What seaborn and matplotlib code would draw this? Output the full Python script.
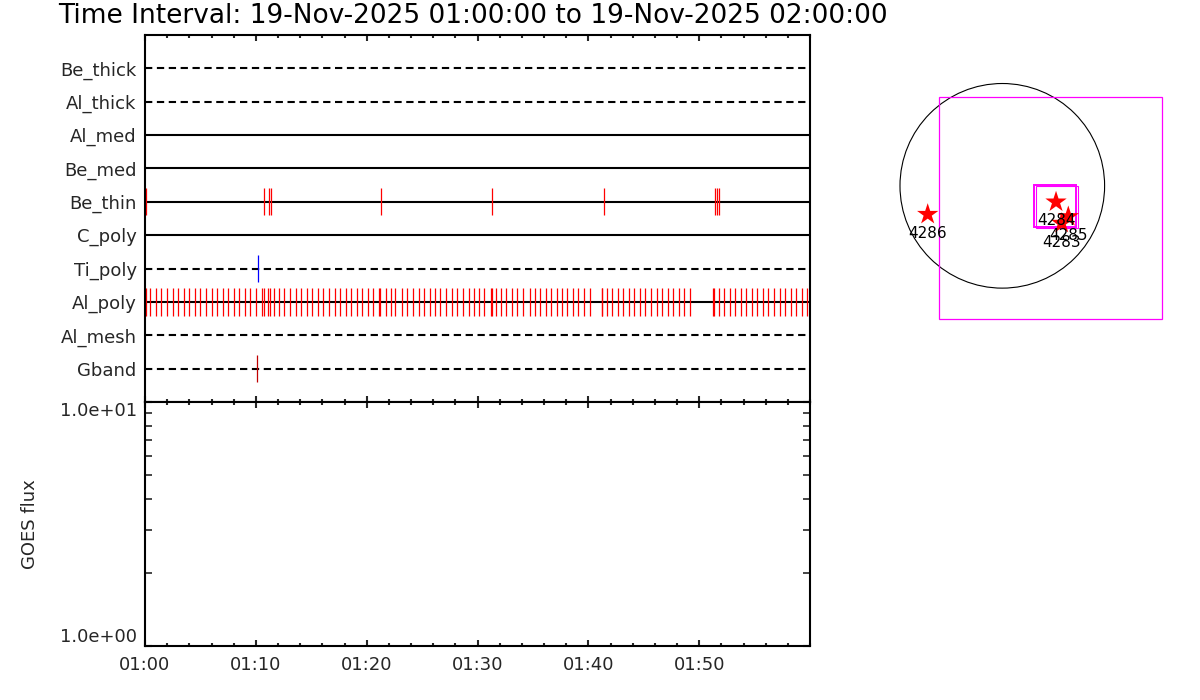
import numpy as np
import pandas as pd
import matplotlib
matplotlib.use("Agg")
import matplotlib.pyplot as plt
from matplotlib.ticker import MultipleLocator, LogLocator, NullFormatter, FixedLocator
from matplotlib.patches import Circle, Rectangle
import seaborn as sns

# ---------------- data ----------------
title = "Time Interval: 19-Nov-2025 01:00:00 to 19-Nov-2025 02:00:00"

# filter rows, top to bottom
filters = ["Be_thick", "Al_thick", "Al_med", "Be_med", "Be_thin",
           "C_poly", "Ti_poly", "Al_poly", "Al_mesh", "Gband"]

# exposure times (minutes after 01:00)
be_thin_times = [0.09, 10.77, 11.22, 11.40, 21.33, 31.35, 41.37, 51.47, 51.63, 51.78]
ti_poly_times = [10.23]
gband_times = [10.13]
al_poly_times = [
    0.00, 0.08, 0.48, 0.96, 1.47, 2.01, 2.50, 3.00, 3.50, 4.00, 4.50, 5.00, 5.50,
    6.00, 6.50, 7.00, 7.53, 8.00, 8.50, 9.00, 9.50, 10.00, 10.60, 10.70, 11.13,
    11.28, 11.67, 12.12, 12.57, 13.10, 13.60, 14.10, 14.60, 15.10, 15.60, 16.10,
    16.60, 17.10, 17.60, 18.10, 18.60, 19.10, 19.60, 20.10, 20.60, 21.10, 21.18,
    21.70, 22.20, 22.60, 23.20, 23.60, 24.15, 24.70, 25.20, 25.70, 26.20, 26.65,
    27.20, 27.70, 28.15, 28.70, 29.20, 29.65, 30.14, 30.60, 31.20, 31.27, 31.67,
    32.15, 32.60, 33.15, 33.60, 34.10, 34.70, 35.20, 35.64, 36.15, 36.60, 37.15,
    37.65, 38.10, 38.65, 39.10, 39.60, 40.15, 41.20, 41.27, 41.65, 42.16, 42.65,
    43.16, 43.67, 44.15, 44.66, 45.15, 45.65, 46.17, 46.68, 47.16, 47.67, 48.17,
    48.65, 49.17, 51.28, 51.37, 51.80, 52.27, 52.78, 53.26, 53.74, 54.25, 54.77,
    55.25, 55.76, 56.23, 56.75, 57.26, 57.74, 58.25, 58.73, 59.25, 59.70]

time_tick_minutes = [0, 10, 20, 30, 40, 50]
time_tick_labels = ["01:00", "01:10", "01:20", "01:30", "01:40", "01:50"]

goes_ticks = [1.0, 10.0]
goes_tick_labels = ["1.0e+00", "1.0e+01"]

# solar map (arcsec)
sun_radius = 975
fov_big = (-600, -1270, 2125, 2115)          # x0, y0, w, h
fov_small_a = (302, -390, 398, 398)
fov_small_b = (320, -401, 398, 399)
ar_numbers = ["4286", "4284", "4285", "4283"]
ar_x = [-711, 512, 629, 566]
ar_y = [-272, -154, -294, -357]

# ---------------- styles ----------------
dashed_rows = {"Be_thick", "Al_thick", "Ti_poly", "Al_mesh", "Gband"}
tick_colors = {"Be_thin": "red", "Al_poly": "red", "Ti_poly": "blue", "Gband": "#c00000"}

sns.set_theme(style="white")
plt.rcParams["font.family"] = ["DejaVu Sans"]
plt.rcParams["axes.edgecolor"] = "black"

fig = plt.figure(figsize=(12, 7), dpi=100)
W, H = 1200, 700

def px_axes(x0, y0, x1, y1):
    return fig.add_axes([x0 / W, 1 - y1 / H, (x1 - x0) / W, (y1 - y0) / H])

fig.text(58 / W, 1 - 16 / H, title, ha="left", va="center", fontsize=19, color="black")

# ---------------- top panel ----------------
ax1 = px_axes(145, 35, 810, 402)
ax1.set_facecolor("white")
n = len(filters)
row_y = {f: n - i for i, f in enumerate(filters)}
dash = (0, (3.5, 2.2))
for f in filters:
    ls = dash if f in dashed_rows else "-"
    ax1.hlines(row_y[f], 0, 60, colors="black", linewidth=1.5, linestyles=[ls])

exposures = {"Be_thin": be_thin_times, "Al_poly": al_poly_times,
             "Ti_poly": ti_poly_times, "Gband": gband_times}
for f, times in exposures.items():
    y = row_y[f]
    ax1.vlines(times, y - 0.41, y + 0.41, colors=tick_colors[f], linewidth=0.9)

ax1.set_xlim(0, 60)
ax1.set_ylim(0, n + 1)
ax1.set_yticks([row_y[f] for f in filters])
ax1.set_yticklabels(filters, fontsize=13)
ax1.tick_params(axis="y", length=0, pad=6)
ax1.xaxis.set_major_locator(FixedLocator(time_tick_minutes))
ax1.xaxis.set_minor_locator(MultipleLocator(2))
ax1.tick_params(axis="x", which="major", direction="in", top=True, bottom=True,
                length=4.3, width=1.5, labelbottom=False)
ax1.tick_params(axis="x", which="minor", direction="in", top=True, bottom=True,
                length=2.2, width=1.5)
for s in ax1.spines.values():
    s.set_linewidth(1.5)
    s.set_color("black")

# ---------------- bottom panel ----------------
ax2 = px_axes(145, 402, 810, 646)
ax2.set_facecolor("white")
ax2.set_xlim(0, 60)
ax2.set_yscale("log")
ax2.set_ylim(1, 10)
ax2.xaxis.set_major_locator(FixedLocator(time_tick_minutes))
ax2.set_xticklabels(time_tick_labels, fontsize=13)
ax2.xaxis.set_minor_locator(MultipleLocator(2))
ax2.yaxis.set_major_locator(FixedLocator(goes_ticks))
ax2.set_yticklabels(goes_tick_labels, fontsize=13)
ax2.yaxis.set_minor_locator(LogLocator(base=10, subs=np.arange(2, 10)))
ax2.yaxis.set_minor_formatter(NullFormatter())
ax2.tick_params(axis="x", which="major", direction="in", top=True, bottom=True,
                length=4.3, width=1.5, pad=7)
ax2.tick_params(axis="x", which="minor", direction="in", top=True, bottom=True,
                length=2.2, width=1.5)
ax2.tick_params(axis="y", which="major", direction="in", left=True, right=True,
                length=5, width=1.5, pad=6)
ax2.tick_params(axis="y", which="minor", direction="in", left=True, right=True,
                length=5, width=1.2)
ylabs = ax2.get_yticklabels()
ylabs[0].set_va("bottom")
ylabs[1].set_va("top")
ax2.set_ylabel("GOES flux", fontsize=13)
ax2.yaxis.set_label_coords((39 - 145) / 665, 0.5)
for s in ax2.spines.values():
    s.set_linewidth(1.5)
    s.set_color("black")

# ---------------- solar map ----------------
ax3 = px_axes(880, 60, 1180, 330)
ax3.set_xlim(-1165.5, 1693.5)
ax3.set_ylim(-1374, 1199)
ax3.axis("off")
ax3.add_patch(Circle((0, 0), sun_radius, fill=False, edgecolor="black", linewidth=0.8))
ax3.add_patch(Rectangle(fov_big[:2], fov_big[2], fov_big[3], fill=False,
                        edgecolor="magenta", linewidth=0.9))
ax3.add_patch(Rectangle(fov_small_a[:2], fov_small_a[2], fov_small_a[3], fill=False,
                        edgecolor="magenta", linewidth=1.4))
ax3.add_patch(Rectangle(fov_small_b[:2], fov_small_b[2], fov_small_b[3], fill=False,
                        edgecolor="magenta", linewidth=0.8))
ar_df = pd.DataFrame({"x": ar_x, "y": ar_y, "num": ar_numbers})
sns.scatterplot(data=ar_df, x="x", y="y", marker="*", s=260, color="red",
                edgecolor="none", ax=ax3, legend=False, zorder=5)
for _, r in ar_df.iterrows():
    ax3.annotate(r["num"], (r["x"], r["y"]), xytext=(0, -19), textcoords="offset pixels",
                 ha="center", va="center", fontsize=11, color="black", zorder=6)

fig.savefig("out.png", dpi=100, facecolor="white")
